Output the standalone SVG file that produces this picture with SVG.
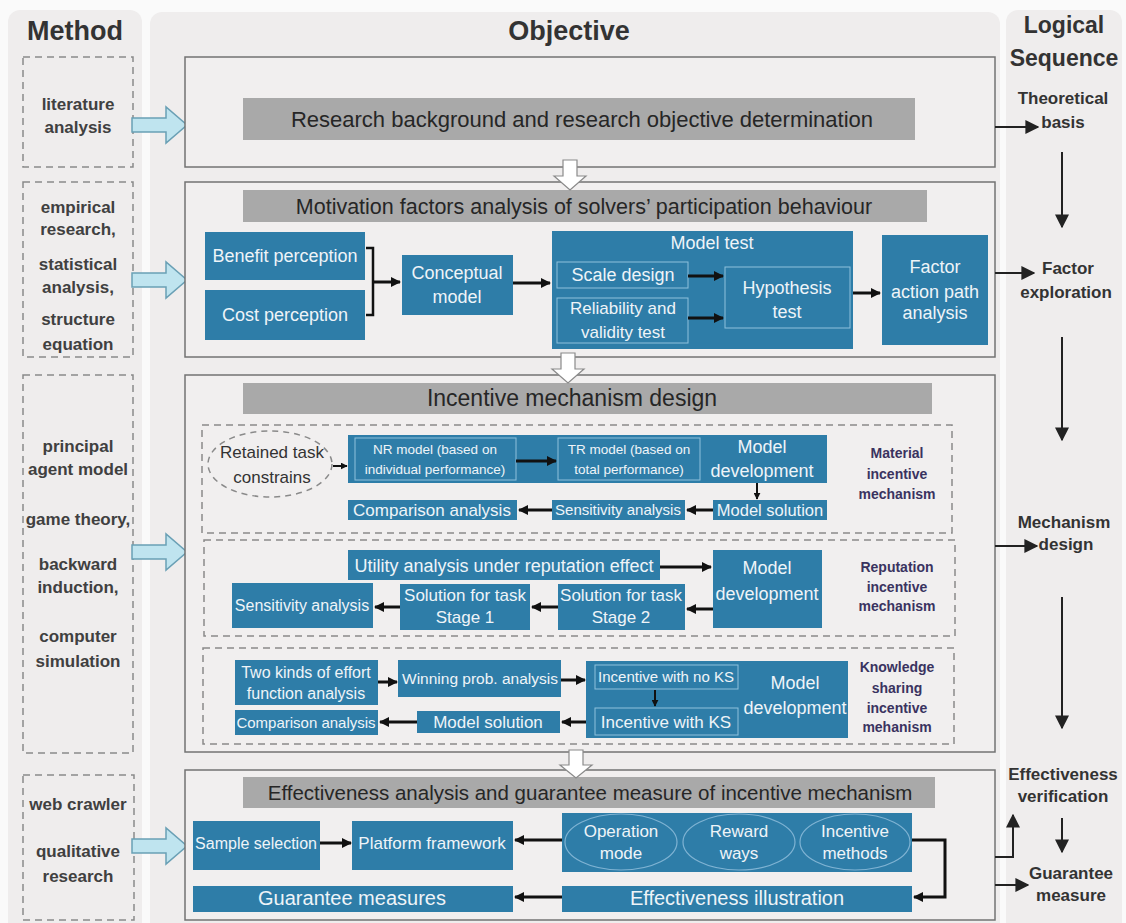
<svg xmlns="http://www.w3.org/2000/svg" width="1126" height="923" viewBox="0 0 1126 923">
<defs>
<style>
text{font-family:"Liberation Sans",Arial,sans-serif}
.panel{fill:#efeded}
.title{font-size:27px;font-weight:bold;fill:#333;text-anchor:middle}
.mt{font-size:17px;font-weight:bold;fill:#404040;text-anchor:middle}
.rt{font-size:17px;font-weight:bold;fill:#333;text-anchor:middle}
.mdash{fill:none;stroke:#8a8a8a;stroke-width:1.5;stroke-dasharray:7 5}
.sec{fill:#f1efef;stroke:#737373;stroke-width:1.5}
.bar{fill:#a9a9a9}
.bt{fill:#262626;text-anchor:middle}
.blue{fill:#2e7da8}
.sub{fill:none;stroke:#8ec1dc;stroke-width:1}
.wt{fill:#eef4f8;text-anchor:middle}
.lbl{font-size:14px;font-weight:bold;fill:#3a3360;text-anchor:middle}
.dk{fill:#333;text-anchor:middle;font-size:17px}
.barrow{fill:#bfe4ef;stroke:#6aa0b5;stroke-width:1.5}
.warrow{fill:#fff;stroke:#8a8a8a;stroke-width:1.2}
.c{fill:none;stroke:#111;stroke-width:3;marker-end:url(#ah)}
.cs{fill:none;stroke:#111;stroke-width:2;marker-end:url(#ahs)}
.cr{fill:none;stroke:#222;stroke-width:2;marker-end:url(#ahr)}
.oval{fill:none;stroke:#7fb3d3;stroke-width:1.2}
</style>
<marker id="ah" viewBox="0 0 10 10" refX="9" refY="5" markerWidth="10" markerHeight="10" markerUnits="userSpaceOnUse" orient="auto"><path d="M0,0 L10,5 L0,10 z" fill="#111"/></marker>
<marker id="ahs" viewBox="0 0 10 10" refX="9" refY="5" markerWidth="7" markerHeight="7" markerUnits="userSpaceOnUse" orient="auto"><path d="M0,0 L10,5 L0,10 z" fill="#111"/></marker>
<marker id="ahr" viewBox="0 0 10 10" refX="9" refY="5" markerWidth="14" markerHeight="14" markerUnits="userSpaceOnUse" orient="auto"><path d="M0,0 L10,5 L0,10 z" fill="#222"/></marker>
</defs>
<rect x="0" y="0" width="1126" height="923" fill="#fafafa"/>
<g id="panels">
<rect class="panel" x="8" y="10" width="134" height="925" rx="12"/>
<rect class="panel" x="150" y="12" width="850" height="925" rx="12"/>
<rect class="panel" x="1006" y="10" width="116" height="925" rx="12"/>
<text class="title" x="75" y="40">Method</text>
<text class="title" x="569" y="40">Objective</text>
<text class="title" x="1064" y="33" style="font-size:23px">Logical</text>
<text class="title" x="1064" y="66" style="font-size:23px">Sequence</text>
</g>
<g id="methods">
<g id="m1"><rect class="mdash" x="23" y="57" width="110" height="110"/>
<text class="mt" x="78" y="110">literature</text><text class="mt" x="78" y="133">analysis</text></g>
<g id="m2"><rect class="mdash" x="23" y="182" width="110" height="175"/>
<text class="mt" x="78" y="213">empirical</text><text class="mt" x="78" y="235">research,</text>
<text class="mt" x="78" y="270">statistical</text><text class="mt" x="78" y="293">analysis,</text>
<text class="mt" x="78" y="325">structure</text><text class="mt" x="78" y="350">equation</text></g>
<g id="m3"><rect class="mdash" x="23" y="375" width="110" height="378"/>
<text class="mt" x="78" y="452">principal</text><text class="mt" x="78" y="475">agent model</text>
<text class="mt" x="78" y="525">game theory,</text>
<text class="mt" x="78" y="570">backward</text><text class="mt" x="78" y="593">induction,</text>
<text class="mt" x="78" y="642">computer</text><text class="mt" x="78" y="667">simulation</text></g>
<g id="m4"><rect class="mdash" x="23" y="775" width="111" height="145"/>
<text class="mt" x="78" y="810">web crawler</text>
<text class="mt" x="78" y="857">qualitative</text><text class="mt" x="78" y="882">research</text></g>
</g>
<g id="block-arrows">
<polygon class="barrow" points="132,118 166,118 166,107 187,125 166,143 166,132 132,132"/>
<polygon class="barrow" points="132,273 166,273 166,262 187,280 166,298 166,287 132,287"/>
<polygon class="barrow" points="132,545 166,545 166,534 187,552 166,570 166,559 132,559"/>
<polygon class="barrow" points="132,839 166,839 166,828 187,846 166,864 166,853 132,853"/>
</g>
<g id="sections">
<g id="s1"><rect class="sec" x="185" y="57" width="810" height="110"/>
<rect class="bar" x="243" y="98" width="672" height="42"/>
<text class="bt" x="582" y="127" style="font-size:22px">Research background and research objective determination</text></g>
<g id="s2"><rect class="sec" x="185" y="182" width="810" height="175"/>
<rect class="bar" x="243" y="190" width="684" height="32"/>
<text class="bt" x="584" y="214" style="font-size:21.5px">Motivation factors analysis of solvers’ participation behaviour</text></g>
<g id="s3"><rect class="sec" x="185" y="375" width="810" height="377"/>
<rect class="bar" x="243" y="383" width="689" height="31"/>
<text class="bt" x="572" y="406" style="font-size:23px">Incentive mechanism design</text></g>
<g id="s4"><rect class="sec" x="185" y="770" width="810" height="150"/>
<rect class="bar" x="243" y="777" width="692" height="31"/>
<text class="bt" x="590" y="800" style="font-size:20.5px">Effectiveness analysis and guarantee measure of incentive mechanism</text></g>
</g>
<g id="white-arrows">
<polygon class="warrow" points="563,160 577,160 577,176 586,176 570,190 554,176 563,176"/>
<polygon class="warrow" points="561,353 575,353 575,369 584,369 568,383 552,369 561,369"/>
<polygon class="warrow" points="569,750 583,750 583,765 592,765 576,778 560,765 569,765"/>
</g>
<g id="benefit"><rect class="blue" x="205" y="232" width="160" height="48"/><text class="wt" x="285" y="262" font-size="18">Benefit perception</text></g>
<g id="cost"><rect class="blue" x="205" y="290" width="160" height="50"/><text class="wt" x="285" y="321" font-size="18">Cost perception</text></g>
<g id="conceptual"><rect class="blue" x="402" y="255" width="111" height="60"/><text class="wt" x="457" y="279" font-size="18">Conceptual</text><text class="wt" x="457" y="303" font-size="18">model</text></g>
<g id="modeltest"><rect class="blue" x="552" y="231" width="301" height="118"/><text class="wt" x="712" y="249" font-size="18">Model test</text>
<rect class="sub" x="557" y="262" width="131" height="26"/><text class="wt" x="623" y="281" font-size="18">Scale design</text>
<rect class="sub" x="557" y="298" width="131" height="45"/><text class="wt" x="623" y="314" font-size="17">Reliability and</text><text class="wt" x="623" y="338" font-size="17">validity test</text>
<rect class="sub" x="725" y="267" width="125" height="61"/><text class="wt" x="787" y="294" font-size="18">Hypothesis</text><text class="wt" x="787" y="318" font-size="18">test</text></g>
<g id="factor"><rect class="blue" x="882" y="235" width="106" height="110"/><text class="wt" x="935" y="273" font-size="18">Factor</text><text class="wt" x="935" y="298" font-size="18">action path</text><text class="wt" x="935" y="319" font-size="18">analysis</text></g>
<g id="material">
<rect class="mdash" x="202" y="425" width="750" height="108"/>
<ellipse cx="270" cy="464" rx="62" ry="33" fill="none" stroke="#8a8a8a" stroke-width="1.5" stroke-dasharray="6 5"/>
<text class="dk" x="272" y="458">Retained task</text><text class="dk" x="272" y="483">constrains</text>
<rect class="blue" x="348" y="435" width="479" height="48"/>
<rect class="sub" x="355" y="438" width="161" height="42"/><text class="wt" x="435" y="454" font-size="13.5">NR model (based on</text><text class="wt" x="435" y="474" font-size="13.5">individual performance)</text>
<rect class="sub" x="558" y="438" width="142" height="42"/><text class="wt" x="629" y="454" font-size="13.5">TR model (based on</text><text class="wt" x="629" y="474" font-size="13.5">total performance)</text>
<text class="wt" x="762" y="453" font-size="18">Model</text><text class="wt" x="762" y="477" font-size="18">development</text>
<rect class="blue" x="713" y="500" width="114" height="20"/><text class="wt" x="770" y="516" font-size="16.5">Model solution</text>
<rect class="blue" x="552" y="500" width="133" height="20"/><text class="wt" x="618" y="515" font-size="15">Sensitivity analysis</text>
<rect class="blue" x="348" y="500" width="169" height="20"/><text class="wt" x="432" y="516" font-size="17">Comparison analysis</text>
<text class="lbl" x="897" y="458">Material</text><text class="lbl" x="897" y="479">incentive</text><text class="lbl" x="897" y="499">mechanism</text>
</g>
<g id="reputation">
<rect class="mdash" x="204" y="540" width="751" height="96"/>
<rect class="blue" x="348" y="550" width="312" height="30"/><text class="wt" x="504" y="572" font-size="18">Utility analysis under reputation effect</text>
<rect class="blue" x="713" y="550" width="109" height="78"/><text class="wt" x="767" y="574" font-size="18">Model</text><text class="wt" x="767" y="600" font-size="18">development</text>
<rect class="blue" x="558" y="584" width="127" height="46"/><text class="wt" x="621" y="601" font-size="17">Solution for task</text><text class="wt" x="621" y="623" font-size="17">Stage 2</text>
<rect class="blue" x="400" y="584" width="130" height="46"/><text class="wt" x="465" y="601" font-size="17">Solution for task</text><text class="wt" x="465" y="623" font-size="17">Stage 1</text>
<rect class="blue" x="232" y="583" width="141" height="45"/><text class="wt" x="302" y="611" font-size="16">Sensitivity analysis</text>
<text class="lbl" x="897" y="572">Reputation</text><text class="lbl" x="897" y="592">incentive</text><text class="lbl" x="897" y="611">mechanism</text>
</g>
<g id="knowledge">
<rect class="mdash" x="203" y="648" width="751" height="96"/>
<rect class="blue" x="235" y="660" width="143" height="45"/><text class="wt" x="306" y="678" font-size="16">Two kinds of effort</text><text class="wt" x="306" y="699" font-size="16">function analysis</text>
<rect class="blue" x="235" y="710" width="143" height="25"/><text class="wt" x="306" y="728" font-size="15">Comparison analysis</text>
<rect class="blue" x="398" y="660" width="163" height="37"/><text class="wt" x="480" y="684" font-size="15.5">Winning prob. analysis</text>
<rect class="blue" x="586" y="661" width="262" height="77"/>
<rect class="sub" x="595" y="665" width="143" height="24"/><text class="wt" x="666" y="682" font-size="15">Incentive with no KS</text>
<rect class="sub" x="595" y="708" width="143" height="27"/><text class="wt" x="666" y="728" font-size="17">Incentive with KS</text>
<text class="wt" x="795" y="689" font-size="18">Model</text><text class="wt" x="795" y="714" font-size="18">development</text>
<rect class="blue" x="417" y="711" width="143" height="22"/><text class="wt" x="488" y="728" font-size="17">Model solution</text>
<text class="lbl" x="897" y="672">Knowledge</text><text class="lbl" x="897" y="693">sharing</text><text class="lbl" x="897" y="713">incentive</text><text class="lbl" x="897" y="732">mehanism</text>
</g>
<g id="effectiveness">
<rect class="blue" x="193" y="821" width="127" height="49"/><text class="wt" x="256" y="849" font-size="16">Sample selection</text>
<rect class="blue" x="352" y="821" width="161" height="49"/><text class="wt" x="432" y="849" font-size="17">Platform framework</text>
<rect class="blue" x="562" y="813" width="350" height="59"/>
<ellipse class="oval" cx="621" cy="842" rx="56" ry="28"/><text class="wt" x="621" y="837" font-size="17">Operation</text><text class="wt" x="621" y="859" font-size="17">mode</text>
<ellipse class="oval" cx="739" cy="842" rx="56" ry="28"/><text class="wt" x="739" y="837" font-size="17">Reward</text><text class="wt" x="739" y="859" font-size="17">ways</text>
<ellipse class="oval" cx="855" cy="842" rx="55" ry="28"/><text class="wt" x="855" y="837" font-size="17">Incentive</text><text class="wt" x="855" y="859" font-size="17">methods</text>
<rect class="blue" x="562" y="886" width="350" height="26"/><text class="wt" x="737" y="905" font-size="20">Effectiveness illustration</text>
<rect class="blue" x="193" y="886" width="320" height="26"/><text class="wt" x="352" y="905" font-size="20">Guarantee measures</text>
</g>
<g id="logical">
<text class="rt" x="1063" y="104">Theoretical</text><text class="rt" x="1063" y="128">basis</text>
<text class="rt" x="1068" y="274">Factor</text><text class="rt" x="1066" y="298">exploration</text>
<text class="rt" x="1064" y="528">Mechanism</text><text class="rt" x="1066" y="550">design</text>
<text class="rt" x="1063" y="780">Effectiveness</text><text class="rt" x="1063" y="802">verification</text>
<text class="rt" x="1071" y="879">Guarantee</text><text class="rt" x="1071" y="901">measure</text>
</g>
<g id="connectors">
<path d="M366,248 H373 V315 H366" fill="none" stroke="#111" stroke-width="2.5"/>
<path class="c" d="M373,282 H400"/>
<path class="c" d="M513,283 H550"/>
<path class="c" d="M688,276 H723"/>
<path class="c" d="M688,318 H723"/>
<path class="c" d="M853,293 H880"/>
<path class="cs" d="M333,466 H347"/>
<path class="c" d="M516,461 H556"/>
<path class="cs" d="M757,483 V499"/>
<path class="c" d="M713,510 H687"/>
<path class="c" d="M552,510 H519"/>
<path class="c" d="M660,567 H711"/>
<path class="c" d="M713,609 H687"/>
<path class="c" d="M558,607 H532"/>
<path class="c" d="M400,607 H375"/>
<path class="c" d="M378,682 H397"/>
<path class="c" d="M561,680 H585"/>
<path class="cs" d="M655,690 V706"/>
<path class="c" d="M586,722 H562"/>
<path class="c" d="M417,722 H380"/>
<path class="c" d="M320,843 H351"/>
<path class="c" d="M562,840 H515"/>
<path class="c" d="M912,840 H945 V897 H914"/>
<path class="c" d="M562,897 H515"/>
<path class="cr" d="M995,127 H1038"/>
<path class="cr" d="M1062,152 V227"/>
<path class="cr" d="M995,273 H1034"/>
<path class="cr" d="M1062,337 V440"/>
<path class="cr" d="M995,546 H1037"/>
<path class="cr" d="M1062,597 V728"/>
<path class="cr" d="M1062,818 V852"/>
<path class="cr" d="M995,857 H1013 V815"/>
<path class="cr" d="M995,885 H1028"/>
</g>
</svg>
